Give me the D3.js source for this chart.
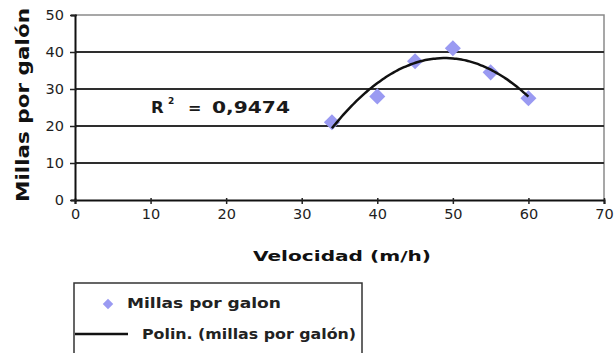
<!DOCTYPE html>
<html>
<head>
<meta charset="utf-8">
<script src="https://cdn.jsdelivr.net/npm/d3@7"></script>
<style>
  html, body { margin: 0; padding: 0; background: #fff; }
  svg { display: block; }
  text { font-family: "DejaVu Sans", Verdana, sans-serif; }
</style>
</head>
<body>
<svg id="chart" width="614" height="353"></svg>
<script>
// Velocidad (m/h) vs. millas por galón
const velocidad = [34, 40, 45, 50, 55, 60];
const millasPorGalon = [21, 28, 37.5, 41, 34.5, 27.5];
const xTicks = [0, 10, 20, 30, 40, 50, 60, 70];
const yTicks = [0, 10, 20, 30, 40, 50];
const r2Label = "0,9474";

const svg = d3.select("#chart");
const plot = { left: 75, right: 604, top: 15, bottom: 200 };

const x = d3.scaleLinear().domain([0, 70]).range([plot.left, plot.right]);
const y = d3.scaleLinear().domain([0, 50]).range([plot.bottom, plot.top]);

// Plot frame (top and right edges)
svg.append("path")
  .attr("d", `M${plot.left},${plot.top}H${plot.right}V${plot.bottom}`)
  .attr("fill", "none").attr("stroke", "#8a8a8a").attr("stroke-width", 1.5);

// Horizontal gridlines
svg.append("g").selectAll("line")
  .data(yTicks.filter(t => t > 0 && t < 50))
  .join("line")
  .attr("x1", plot.left).attr("x2", plot.right)
  .attr("y1", d => y(d)).attr("y2", d => y(d))
  .attr("stroke", "#2e2e2e").attr("stroke-width", 2);

// Axes
const xAxis = svg.append("g")
  .attr("transform", `translate(0,${plot.bottom})`)
  .call(d3.axisBottom(x).tickValues(xTicks).tickSize(4).tickPadding(5));
const yAxis = svg.append("g")
  .attr("transform", `translate(${plot.left},0)`)
  .call(d3.axisLeft(y).tickValues(yTicks).tickSize(4).tickPadding(7));

[xAxis, yAxis].forEach(g => {
  g.select(".domain").attr("stroke", "#111").attr("stroke-width", 2);
  g.selectAll(".tick line").attr("stroke", "#222").attr("stroke-width", 1.5);
  g.selectAll(".tick text")
    .attr("font-family", "'DejaVu Sans', Verdana, sans-serif")
    .attr("font-size", 14.5).attr("fill", "#1e1e1e");
});
xAxis.selectAll(".tick line").attr("y1", -2);
yAxis.selectAll(".tick line").attr("x1", 2).attr("x2", -5);

// Quadratic trend line (least squares fit of order 2)
function polyFit2(xs, ys) {
  const n = xs.length;
  let s = [0, 0, 0, 0, 0], t = [0, 0, 0];
  for (let i = 0; i < n; i++) {
    let p = 1;
    for (let k = 0; k < 5; k++) { s[k] += p; if (k < 3) t[k] += p * ys[i]; p *= xs[i]; }
  }
  const A = [[s[0], s[1], s[2], t[0]], [s[1], s[2], s[3], t[1]], [s[2], s[3], s[4], t[2]]];
  for (let c = 0; c < 3; c++) {
    for (let r = c + 1; r < 3; r++) {
      const f = A[r][c] / A[c][c];
      for (let k = c; k < 4; k++) A[r][k] -= f * A[c][k];
    }
  }
  const coef = [0, 0, 0];
  for (let r = 2; r >= 0; r--) {
    let v = A[r][3];
    for (let k = r + 1; k < 3; k++) v -= A[r][k] * coef[k];
    coef[r] = v / A[r][r];
  }
  return v => coef[0] + coef[1] * v + coef[2] * v * v;
}
const fit = polyFit2(velocidad, millasPorGalon);
const x0 = d3.min(velocidad), x1 = d3.max(velocidad);
const trendPts = d3.range(0, 61).map(i => x0 + (x1 - x0) * i / 60);

// Data markers (diamonds)
const diamond = d3.symbol().type(d3.symbolDiamond2).size(165);
svg.append("g").selectAll("path")
  .data(velocidad.map((v, i) => [v, millasPorGalon[i]]))
  .join("path")
  .attr("d", diamond)
  .attr("transform", d => `translate(${x(d[0])},${y(d[1])})`)
  .attr("fill", "#9a9af2");

svg.append("path")
  .datum(trendPts)
  .attr("d", d3.line().x(v => x(v)).y(v => y(fit(v))).curve(d3.curveBasis))
  .attr("fill", "none").attr("stroke", "#111").attr("stroke-width", 2.5);

// R² annotation
const r2 = svg.append("g")
  .attr("font-weight", "bold").attr("fill", "#1a1a1a");
r2.append("text").attr("x", 151).attr("y", 113).attr("font-size", 16.5).text("R");
r2.append("text").attr("x", 168).attr("y", 104).attr("font-size", 9).text("2");
r2.append("text").attr("x", 188).attr("y", 113).attr("font-size", 16).text("=");
r2.append("text").attr("x", 212).attr("y", 113).attr("font-size", 16.5)
  .attr("textLength", 78).attr("lengthAdjust", "spacingAndGlyphs")
  .text(r2Label);

// Axis titles
svg.append("text")
  .attr("x", 342).attr("y", 261)
  .attr("text-anchor", "middle")
  .attr("font-size", 14.5).attr("font-weight", "bold").attr("fill", "#111")
  .attr("textLength", 178).attr("lengthAdjust", "spacingAndGlyphs")
  .text("Velocidad (m/h)");

svg.append("text")
  .attr("transform", "translate(29,105) rotate(-90)")
  .attr("text-anchor", "middle")
  .attr("font-size", 17).attr("font-weight", "bold").attr("fill", "#111")
  .attr("textLength", 194).attr("lengthAdjust", "spacingAndGlyphs")
  .text("Millas por galón");

// Legend
const legend = svg.append("g");
legend.append("rect")
  .attr("x", 74).attr("y", 283).attr("width", 288).attr("height", 80)
  .attr("fill", "#fff").attr("stroke", "#333").attr("stroke-width", 1.5);
legend.append("path")
  .attr("d", d3.symbol().type(d3.symbolDiamond2).size(70))
  .attr("transform", "translate(108,304)")
  .attr("fill", "#9a9af2");
legend.append("text")
  .attr("x", 127).attr("y", 308)
  .attr("font-size", 14).attr("font-weight", "bold").attr("fill", "#222")
  .attr("textLength", 154).attr("lengthAdjust", "spacingAndGlyphs")
  .text("Millas por galon");
legend.append("line")
  .attr("x1", 75).attr("x2", 128).attr("y1", 334).attr("y2", 334)
  .attr("stroke", "#111").attr("stroke-width", 2.5);
legend.append("text")
  .attr("x", 142).attr("y", 339)
  .attr("font-size", 14).attr("font-weight", "bold").attr("fill", "#222")
  .attr("textLength", 214).attr("lengthAdjust", "spacingAndGlyphs")
  .text("Polin. (millas por galón)");
</script>
</body>
</html>
